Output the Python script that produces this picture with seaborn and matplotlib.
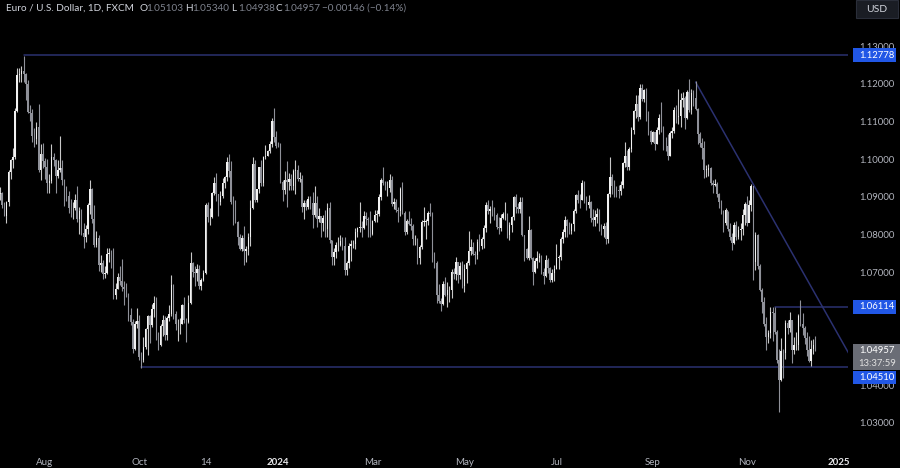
import numpy as np
import pandas as pd
import matplotlib
matplotlib.use("Agg")
import matplotlib.pyplot as plt
from matplotlib.patches import Rectangle
import seaborn as sns

# EUR/USD daily bars (weekdays from 2023-07-03), values in pips above 1.0000
first_open_pips = 910
close_pips = [
    912, 881, 853, 888, 968,   999, 1008, 1129, 1227, 1229,   1237, 1228, 1201, 1128, 1124,
    1065, 1056, 1087, 973, 1016,   997, 983, 938, 945, 1007,   1001, 957, 974, 980, 948,
    906, 904, 873, 872, 872,   895, 845, 864, 806, 795,   817, 880, 923, 843, 775,
    794, 722, 726, 697, 700,   751, 753, 732, 642, 658,   690, 680, 663, 658, 645,
    590, 570, 500, 565, 573,   478, 470, 505, 551, 587,   562, 605, 620, 530, 510,
    560, 575, 535, 580, 593,   668, 592, 565, 565, 565,   615, 575, 570, 620, 728,
    703, 700, 712, 666, 683,   700, 880, 848, 850, 913,   940, 910, 890, 905, 940,
    955, 995, 970, 888, 884,   835, 795, 764, 793, 760,   763, 795, 873, 990, 895,
    923, 981, 940, 1007, 1012,   1025, 1043, 1105, 1060, 1038,
    1037, 942, 922, 946, 941,   950, 930, 972, 973, 950,   951, 876, 886, 875, 897,
    885, 855, 885, 845, 851,   833, 846, 818, 873, 787,   743, 756, 774, 775, 785,
    772, 708, 728, 772, 777,   778, 808, 820, 822, 820,   851, 845, 841, 805, 838,
    855, 856, 901, 948, 938,   926, 927, 948, 883, 890,   868, 865, 923, 860, 808,
    839, 830, 826, 790, 791,   740, 770, 836, 837, 838,   860, 858, 743, 727, 642,
    625, 619, 671, 643, 655,   655, 704, 697, 730, 694,   719, 666, 712, 727, 760,
    770, 752, 749, 782, 771,   791, 820, 880, 866, 870,   858, 855, 822, 819, 847,
    857, 858, 800, 829, 848,   903, 875, 871, 889, 801,   764, 741, 815, 740, 702,
    733, 741, 746, 704, 692,   734, 713, 681, 701, 712,   740, 742, 791, 810, 840,
    825, 813, 830, 866, 908,   895, 894, 938, 898, 880,   890, 846, 842, 848, 856,
    822, 816, 825, 790, 909,   955, 930, 922, 920, 917,   934, 992, 1012, 982, 1029,
    1081, 1129, 1150, 1113, 1191,   1161, 1185, 1119, 1077, 1048,   1074, 1044, 1080, 1111, 1085,
    1038, 1037, 1011, 1073, 1076,   1133, 1115, 1118, 1160, 1164,   1112, 1180, 1133, 1177, 1164,
    1135, 1068, 1046, 1032, 975,   975, 978, 940, 935, 936,   909, 890, 861, 833, 867,
    816, 797, 781, 828, 797,   815, 818, 855, 884, 834,   880, 932, 731, 801, 720,
    655, 623, 564, 530, 541,   598, 595, 543, 471, 417,   494, 488, 567, 555, 577,
    497, 509, 510, 587, 566,   554, 529, 496, 467, 500,   510.3, 495.7,
]
high_pips = [
    929, 915, 890, 892, 975,   1003, 1031, 1139, 1244, 1245,   1249, 1276, 1232, 1213, 1145,
    1135, 1084, 1100, 1149, 1043,   1046, 1006, 1003, 964, 1043,   1018, 1003, 1001, 1064, 1001,
    951, 932, 917, 897, 888,   911, 931, 876, 871, 834,   828, 887, 946, 926, 882,
    813, 800, 747, 735, 720,   767, 767, 761, 768, 675,   700, 718, 737, 678, 673,
    647, 607, 578, 574, 609,   588, 491, 530, 555, 590,   590, 618, 640, 637, 544,
    566, 590, 587, 586, 615,   695, 671, 599, 578, 581,   619, 636, 580, 642, 756,
    730, 720, 724, 723, 688,   708, 887, 888, 873, 916,   954, 965, 909, 918, 952,
    957, 1009, 1017, 998, 905,   895, 839, 804, 800, 824,   771, 806, 894, 1009, 1001,
    924, 982, 1000, 1012, 1040,   1027, 1050, 1112, 1139, 1078,
    1047, 1046, 948, 971, 998,   966, 964, 976, 1000, 988,   968, 960, 893, 894, 905,
    906, 916, 932, 906, 872,   845, 855, 868, 887, 890,   787, 766, 784, 795, 800,
    797, 795, 732, 780, 787,   788, 819, 823, 889, 839,   865, 863, 850, 864, 840,
    868, 868, 910, 952, 981,   945, 945, 963, 958, 900,   898, 875, 928, 942, 865,
    843, 865, 846, 831, 800,   794, 775, 840, 876, 844,   864, 885, 862, 757, 732,
    671, 633, 680, 691, 677,   667, 711, 714, 742, 731,   730, 733, 724, 733, 812,
    791, 783, 760, 791, 803,   797, 828, 888, 895, 877,   894, 875, 861, 850, 858,
    862, 889, 860, 836, 852,   904, 909, 885, 902, 902,   802, 767, 852, 818, 744,
    739, 760, 753, 748, 713,   748, 739, 716, 710, 722,   777, 749, 796, 816, 852,
    845, 836, 833, 871, 910,   922, 910, 948, 944, 904,   907, 891, 869, 868, 872,
    871, 830, 833, 836, 912,   1008, 963, 946, 931, 934,   944, 995, 1047, 1028, 1035,
    1088, 1133, 1174, 1173, 1201,   1202, 1189, 1192, 1131, 1081,   1078, 1075, 1088, 1121, 1155,
    1090, 1060, 1070, 1078, 1089,   1140, 1146, 1189, 1178, 1181,   1170, 1187, 1214, 1189, 1187,
    1209, 1138, 1075, 1058, 1050,   988, 990, 982, 948, 950,   943, 913, 893, 868, 872,
    866, 832, 807, 836, 838,   826, 832, 870, 888, 905,   893, 937, 913, 809, 805,
    724, 661, 637, 584, 549,   610, 610, 611, 550, 499,   528, 500, 576, 575, 596,
    573, 530, 544, 591, 630,   595, 559, 543, 533, 524,   525, 534.0,
]
low_pips = [
    893, 873, 851, 833, 877,   951, 979, 1004, 1127, 1206,   1207, 1206, 1160, 1125, 1104,
    1047, 1035, 1044, 968, 946,   979, 951, 912, 912, 940,   984, 913, 952, 968, 935,
    878, 891, 861, 850, 845,   868, 837, 803, 801, 766,   784, 803, 856, 832, 769,
    770, 705, 702, 685, 686,   697, 729, 713, 631, 632,   658, 669, 652, 615, 637,
    574, 562, 488, 496, 554,   469, 448, 465, 499, 482,   515, 557, 583, 524, 496,
    507, 533, 523, 524, 573,   586, 579, 549, 521, 539,   564, 567, 517, 569, 617,
    690, 667, 680, 659, 656,   680, 697, 836, 828, 846,   907, 892, 853, 882, 899,
    927, 944, 955, 884, 827,   832, 776, 762, 760, 723,   729, 749, 773, 869, 888,
    888, 912, 932, 930, 1004,   1010, 1020, 1036, 1047, 1031,
    1035, 940, 892, 910, 876,   921, 922, 921, 910, 945,   943, 863, 844, 867, 869,
    869, 821, 850, 822, 837,   795, 811, 795, 796, 781,   723, 722, 740, 760, 771,
    762, 696, 695, 713, 732,   766, 763, 795, 810, 796,   818, 828, 797, 795, 802,
    837, 836, 853, 895, 934,   920, 906, 916, 878, 871,   862, 837, 851, 856, 802,
    804, 829, 815, 775, 776,   724, 724, 765, 826, 792,   829, 851, 729, 715, 622,
    622, 601, 616, 640, 610,   624, 633, 685, 681, 673,   685, 661, 650, 675, 723,
    749, 747, 724, 738, 760,   765, 767, 810, 856, 833,   852, 840, 817, 804, 812,
    845, 842, 793, 788, 809,   842, 860, 859, 859, 798,   733, 737, 736, 737, 668,
    700, 714, 731, 697, 671,   689, 701, 676, 677, 680,   710, 710, 734, 779, 797,
    796, 805, 803, 812, 859,   886, 872, 893, 886, 867,   873, 836, 825, 826, 832,
    813, 801, 795, 778, 779,   903, 911, 903, 901, 899,   908, 926, 982, 973, 975,
    1021, 1068, 1112, 1104, 1109,   1157, 1154, 1103, 1067, 1044,   1048, 1026, 1042, 1070, 1075,
    1026, 1025, 1001, 1010, 1059,   1072, 1099, 1097, 1088, 1140,   1083, 1110, 1127, 1123, 1144,
    1132, 1044, 1036, 1004, 952,   954, 957, 934, 913, 932,   903, 872, 857, 810, 828,
    811, 787, 761, 778, 788,   790, 788, 800, 828, 825,   836, 865, 682, 708, 710,
    652, 595, 560, 496, 516,   528, 521, 538, 463, 332,   415, 423, 473, 538, 545,
    461, 487, 496, 497, 559,   535, 511, 481, 465, 453,   486, 493.8,
]

# horizontal levels: (start date, price, label)
level_dates = ["2023-07-18", "2023-10-03", "2024-11-20"]
level_prices = [1.12778, 1.04510, 1.06114]
level_labels = ["1.12778", "1.04510", "1.06114"]
# trendline anchors (date, price)
trend_dates = ["2024-09-30", "2025-01-10"]
trend_prices = [1.1207, 1.0463]

price_ticks = [1.03, 1.04, 1.05, 1.06, 1.07, 1.08, 1.09, 1.10, 1.11, 1.12, 1.13]
time_tick_dates = ["2023-08-01", "2023-10-02", "2023-11-14", "2024-01-01", "2024-03-01",
                   "2024-05-01", "2024-07-01", "2024-09-02", "2024-11-01", "2025-01-01"]
time_tick_labels = ["Aug", "Oct", "14", "2024", "Mar", "May", "Jul", "Sep", "Nov", "2025"]

last_close_label = "1.04957"
countdown_label = "13:37:59"

# ---------------------------------------------------------------
close = 1 + np.array(close_pips, dtype=float) / 1e4
high = 1 + np.array(high_pips, dtype=float) / 1e4
low = 1 + np.array(low_pips, dtype=float) / 1e4
opn = np.concatenate([[1 + first_open_pips / 1e4], close[:-1]])
n = len(close)
dates = pd.bdate_range("2023-07-03", periods=n)
all_days = pd.bdate_range("2023-07-03", "2025-03-01")
def idx_of(d):
    return int(all_days.get_loc(pd.Timestamp(d)))

df = pd.DataFrame({"date": dates, "i": np.arange(n), "open": opn, "high": high,
                   "low": low, "close": close})

sns.set_theme(style="dark", rc={"axes.facecolor": "#000000", "figure.facecolor": "#000000",
                                "savefig.facecolor": "#000000", "axes.edgecolor": "#000000"})
plt.rcParams["font.family"] = ["Lato", "DejaVu Sans"]

W, H = 900, 468
fig = plt.figure(figsize=(W / 100, H / 100), dpi=100)
plot_w, plot_h = 848, 440
ax = fig.add_axes([0, (H - plot_h) / H, plot_w / W, plot_h / H])
axr = fig.add_axes([plot_w / W, (H - plot_h) / H, (W - plot_w) / W, plot_h / H])
for a in (ax, axr):
    a.set_facecolor("#000000")
    for s in a.spines.values():
        s.set_visible(False)
    a.grid(False)

px_per_unit = 3770
ymax = 1.13 + 47 / px_per_unit
ymin = 1.13 - (plot_h - 47) / px_per_unit
xmin = -0.03
xmax = xmin + plot_w / 2.14

# candles
up = df["close"] >= df["open"]
body_col = np.where(up, "#f2f2f2", "#8f9199")
wick_col = np.where(up, "#c8c8c8", "#8f9199")
ax.vlines(df["i"], df["low"], df["high"], colors=wick_col, linewidth=0.8, zorder=3)
body_bottom = np.minimum(df["open"], df["close"])
body_h = np.maximum(np.abs(df["close"] - df["open"]), 0.00012)
ax.bar(df["i"], body_h, bottom=body_bottom, width=0.68, color=body_col, linewidth=0, zorder=4)

# levels with seaborn
line_col = "#2b3170"
for d, p in zip(level_dates, level_prices):
    ld = pd.DataFrame({"x": [idx_of(d), xmax + 5], "y": [p, p]})
    sns.lineplot(data=ld, x="x", y="y", ax=ax, color=line_col, linewidth=1.1, zorder=2,
                 estimator=None, sort=False)
td = pd.DataFrame({"x": [idx_of(d) for d in trend_dates], "y": trend_prices})
sns.lineplot(data=td, x="x", y="y", ax=ax, color=line_col, linewidth=1.1, zorder=2,
             estimator=None, sort=False)

ax.set_xlim(xmin, xmax)
ax.set_ylim(ymin, ymax)
ax.set_ylabel("")
ax.set_xlabel("")
ax.set_yticks([])
ax.set_xticks([idx_of(d) for d in time_tick_dates])
ax.set_xticklabels(time_tick_labels)
ax.tick_params(axis="x", length=0, pad=13, labelsize=7, colors="#b2b5be")
for t in ax.get_xticklabels():
    if t.get_text() in ("2024", "2025"):
        t.set_fontweight("bold")
        t.set_color("#e8e8ea")

# right price scale
axr.set_xlim(0, 1)
axr.set_ylim(ymin, ymax)
axr.set_xticks([])
axr.set_yticks([])

last = close[-1]
sup_y = last - 27 / px_per_unit
# price labels that sit on top of the scale (these hide tick labels beneath them)
covered = [level_prices[2], last - 6 / px_per_unit]
for p in price_ticks:
    if any(abs(p - c) * px_per_unit < 9 for c in covered):
        continue
    axr.text(0.56, p, f"{p:.5f}", color="#b2b5be", fontsize=6.8, ha="center", va="center", zorder=2)

def box(a, ycenter_price, height_px, color, zorder=5):
    h = height_px / px_per_unit
    a.add_patch(Rectangle((5 / 52, ycenter_price - h / 2), 43 / 52, h, facecolor=color,
                          edgecolor="none", zorder=zorder))

blue = "#2157e6"
box(axr, level_prices[0], 14, blue)
axr.text(0.56, level_prices[0], level_labels[0], color="white", fontsize=6.8, ha="center", va="center", zorder=6)
box(axr, level_prices[2], 14, blue)
axr.text(0.56, level_prices[2], level_labels[2], color="white", fontsize=6.8, ha="center", va="center", zorder=6)
# last price gray box (two lines)
gh = 26 / px_per_unit
axr.add_patch(Rectangle((5 / 52, last - 20 / px_per_unit), 47 / 52, gh,
                        facecolor="#6a6d76", edgecolor="none", zorder=5))
axr.text(0.56, last - 0.5 / px_per_unit, last_close_label, color="white", fontsize=6.8, ha="center", va="center", zorder=6)
axr.text(0.56, last - 13.5 / px_per_unit, countdown_label, color="#e0e0e0", fontsize=6.8, ha="center", va="center", zorder=6)
# 1.04510 label pushed below gray box
box(axr, sup_y, 13, blue, zorder=7)
axr.text(0.56, sup_y, level_labels[1], color="white", fontsize=6.8, ha="center", va="center", zorder=8)

# USD button
fig.patches.append(Rectangle((856 / W, 1 - 18 / H), 42 / W, 18 / H, transform=fig.transFigure,
                             facecolor="#1a1d24", edgecolor="#2a2e39", linewidth=0.8, zorder=5))
fig.text(877 / W, 1 - 9.5 / H, "USD", color="#d1d4dc", fontsize=7.5, ha="center", va="center", zorder=6)

# header legend
hy = 1 - 8.5 / H
hs = 7.2
fig.text(6 / W, hy, "Euro / U.S. Dollar, 1D, FXCM", color="#d1d4dc", fontsize=hs, va="center", ha="left")
segs = [("O", "1.05103", 139), ("H", "1.05340", 185), ("L", "1.04938", 231), ("C", "1.04957", 276)]
for lab, val, x0 in segs:
    fig.text(x0 / W, hy, lab, color="#d1d4dc", fontsize=hs, va="center", ha="left")
    fig.text((x0 + 7) / W, hy, val, color="#7f838e", fontsize=hs, va="center", ha="left")
fig.text(322 / W, hy, "\u22120.00146 (\u22120.14%)", color="#7f838e", fontsize=hs, va="center", ha="left")

fig.savefig("out.png", dpi=100, facecolor="#000000")
